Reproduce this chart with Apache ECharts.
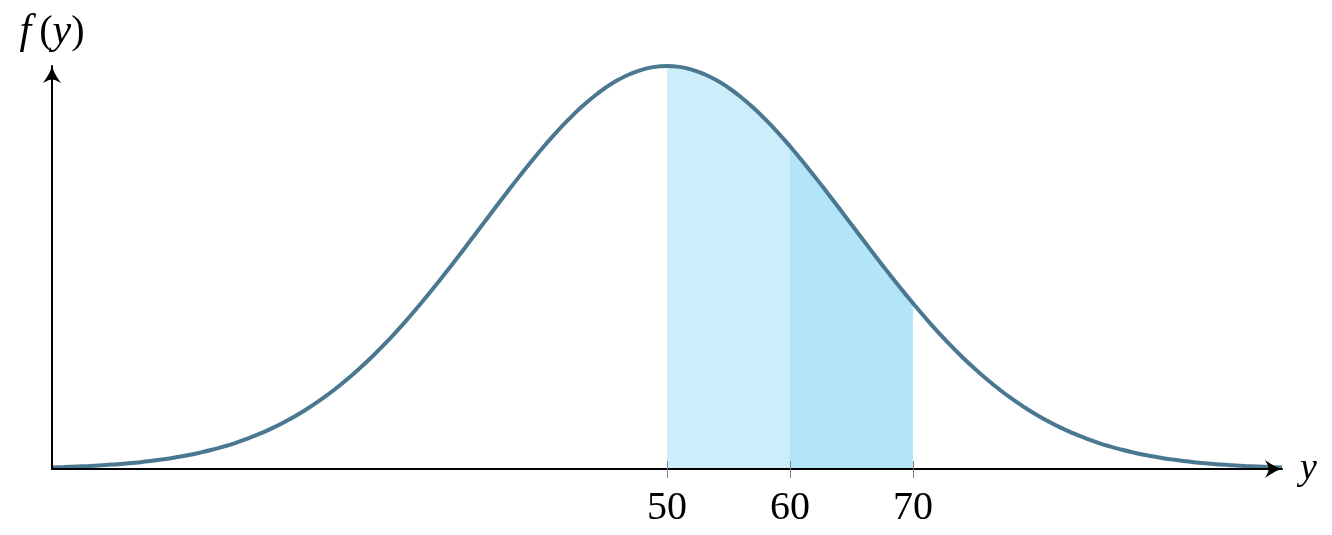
<!DOCTYPE html>
<html>
<head>
<meta charset="utf-8">
<script src="https://cdn.jsdelivr.net/npm/echarts@6/dist/echarts.min.js"></script>
<style>html,body{margin:0;padding:0;background:#fff}#c{width:1332px;height:535px}</style>
</head>
<body>
<div id="c"></div>
<script>
// y values (horizontal axis), one per unit
const yValues = [0,1,2,3,4,5,6,7,8,9,10,11,12,13,14,15,16,17,18,19,20,21,22,23,24,25,26,27,28,29,30,
  31,32,33,34,35,36,37,38,39,40,41,42,43,44,45,46,47,48,49,50,51,52,53,54,55,56,57,58,59,60,
  61,62,63,64,65,66,67,68,69,70,71,72,73,74,75,76,77,78,79,80,81,82,83,84,85,86,87,88,89,90,
  91,92,93,94,95,96,97,98,99,100];
// curve height f(y), relative (peak = 100)
const density = [0.39,0.48,0.60,0.74,0.91,1.11,1.35,1.64,1.98,2.39,2.86,3.40,4.04,4.77,5.61,6.57,7.66,8.89,10.27,11.82,
  13.53,15.43,17.51,19.79,22.26,24.94,27.80,30.87,34.11,37.53,41.11,44.83,48.68,52.61,56.62,60.65,64.69,68.69,72.61,76.42,
  80.07,83.53,86.74,89.68,92.31,94.60,96.51,98.02,99.11,99.78,100,
  99.78,99.11,98.02,96.51,94.60,92.31,89.68,86.74,83.53,80.07,76.42,72.61,68.69,64.69,60.65,56.62,52.61,48.68,44.83,41.11,
  37.53,34.11,30.87,27.80,24.94,22.26,19.79,17.51,15.43,13.53,11.82,10.27,8.89,7.66,6.57,5.61,4.77,4.04,3.40,2.86,
  2.39,1.98,1.64,1.35,1.11,0.91,0.74,0.60,0.48,0.39];
const lightRange = [50, 60];
const darkRange = [60, 70];
const tickValues = [50, 60, 70];

const curve = yValues.map((v, i) => [v, density[i]]);
const inRange = r => curve.filter(p => p[0] >= r[0] && p[0] <= r[1]);

const serif = '"Liberation Serif", "DejaVu Serif", serif';
const arrow = 'path://M50,0 C56,35 74,62 100,100 C76,86 62,80 50,80 C38,80 24,86 0,100 C26,62 44,35 50,0 Z';

const chart = echarts.init(document.getElementById('c'), null, {renderer: 'canvas'});
chart.setOption({
  animation: false,
  grid: {left: 52, right: 50, top: 66, bottom: 66, containLabel: false},
  xAxis: [{
    type: 'value', min: 0, max: 100, z: 5,
    axisLine: {show: true, lineStyle: {color: '#000', width: 2}, symbol: ['none', arrow], symbolSize: [20, 18], symbolOffset: [0, -8]},
    axisTick: {show: true, customValues: tickValues, length: 9, lineStyle: {color: '#808080', width: 1}},
    axisLabel: {show: true, customValues: tickValues, color: '#000', fontFamily: serif, fontSize: 40, margin: 19},
    splitLine: {show: false},
    name: 'y', nameLocation: 'end', nameGap: 18,
    nameTextStyle: {fontFamily: serif, fontStyle: 'italic', fontSize: 38, color: '#000', verticalAlign: 'middle', padding: [0,0,6,0]}
  }, {
    type: 'value', min: 0, max: 100, position: 'bottom', z: 5,
    axisLine: {show: false},
    axisTick: {show: true, inside: true, customValues: tickValues, length: 8, lineStyle: {color: '#808080', width: 1}},
    axisLabel: {show: false},
    splitLine: {show: false}
  }],
  yAxis: {
    type: 'value', min: 0, max: 100, z: 5,
    axisLine: {show: true, lineStyle: {color: '#000', width: 2}, symbol: ['none', arrow], symbolSize: [20, 18], symbolOffset: [0, -8]},
    axisTick: {show: false}, axisLabel: {show: false}, splitLine: {show: false},
    name: '{f|f}{u|\u2009(}{i|y}{u|)}', nameLocation: 'end', nameGap: 13,
    nameTextStyle: {
      color: '#000',
      rich: {
        f: {fontFamily: serif, fontStyle: 'italic', fontSize: 42, color: '#000'},
        i: {fontFamily: serif, fontStyle: 'italic', fontSize: 42, color: '#000'},
        u: {fontFamily: serif, fontSize: 40, color: '#000'}
      }
    }
  },
  series: [{
    type: 'line', data: inRange(lightRange), smooth: true, showSymbol: false, z: 1,
    lineStyle: {width: 0}, areaStyle: {color: '#cceefa', opacity: 1}
  }, {
    type: 'line', data: inRange(darkRange), smooth: true, showSymbol: false, z: 1,
    lineStyle: {width: 0}, areaStyle: {color: '#b3e5f9', opacity: 1}
  }, {
    type: 'line', data: curve, smooth: true, showSymbol: false, z: 3,
    lineStyle: {width: 4, color: '#4a7891'}
  }]
});
</script>
</body>
</html>
